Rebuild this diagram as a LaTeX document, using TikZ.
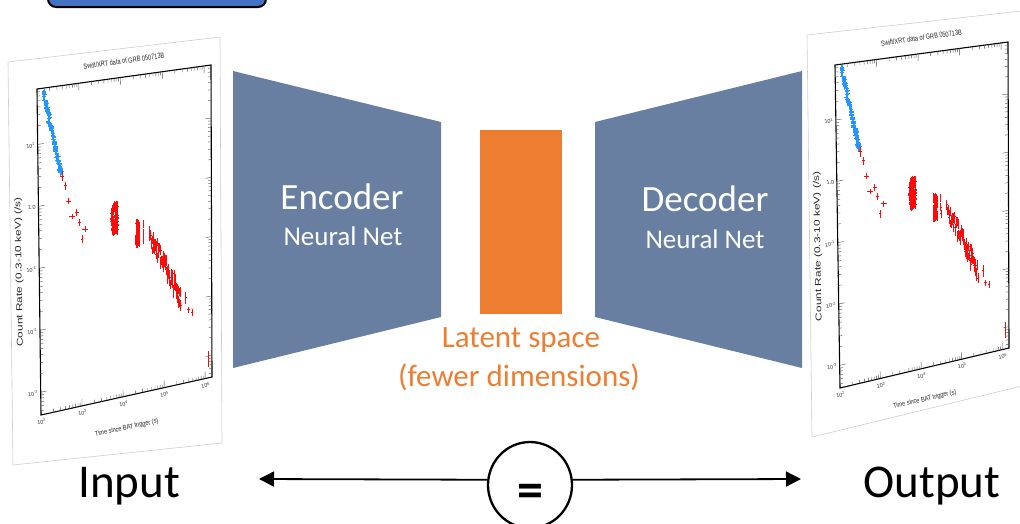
\documentclass[tikz,border=0pt]{standalone}
\usepackage{fontspec}
\setmainfont{Carlito}
\newfontfamily\plotfont{Liberation Sans}
\usetikzlibrary{arrows.meta,calc,shapes.geometric}
\definecolor{slate}{RGB}{104,127,161}
\definecolor{latent}{RGB}{237,125,49}
\definecolor{boxblue}{RGB}{68,114,196}
\definecolor{datablue}{RGB}{35,150,255}
\definecolor{datared}{RGB}{255,10,10}
\definecolor{framegray}{RGB}{205,205,205}

% quadrilateral (bilinear) mapping: A=top-left, B=top-right, C=bottom-left, D=bottom-right
\newcommand\setquad[8]{\def\qax{#1}\def\qay{#2}\def\qbx{#3}\def\qby{#4}\def\qcx{#5}\def\qcy{#6}\def\qdx{#7}\def\qdy{#8}}
\newcommand\qpt[3]{%
 \pgfmathsetmacro\qx{(1-(#2))*((1-(#1))*\qax+(#1)*\qbx)+(#2)*((1-(#1))*\qcx+(#1)*\qdx)}%
 \pgfmathsetmacro\qy{(1-(#2))*((1-(#1))*\qay+(#1)*\qby)+(#2)*((1-(#1))*\qcy+(#1)*\qdy)}%
 \coordinate (#3) at (\qx,\qy);}
\newcommand\ebar[5]{\qpt{#1}{#2}{ep}\draw[#5] ($(ep)+(-#3,0)$) -- ($(ep)+(#3,0)$) ($(ep)+(0,-#4)$) -- ($(ep)+(0,#4)$);}

\tikzset{
 bluept/.style={datablue, line width=1.2pt},
 redpt/.style={datared, line width=1pt},
 axisline/.style={black, line width=1.1pt},
 tickmark/.style={black!70, line width=0.4pt},
 ticklab/.style={font=\plotfont\fontsize{5.5}{6}\selectfont, inner sep=0.5pt, text=black!80},
 plottitle/.style={font=\plotfont\fontsize{7.5}{8}\selectfont, inner sep=0pt, xscale=0.75, text=black!85},
 ylab/.style={font=\plotfont\fontsize{8.5}{9}\selectfont, inner sep=0pt, xscale=1.4, text=black!85},
 xlab/.style={font=\plotfont\fontsize{7}{8}\selectfont, inner sep=0pt, xscale=0.8, text=black!85},
 bigtxt/.style={font=\fontsize{37}{40}\selectfont, text=white, inner sep=0pt},
 midtxt/.style={font=\fontsize{27}{30}\selectfont, text=white, inner sep=0pt},
 lattxt/.style={font=\fontsize{31}{34}\selectfont, text=latent, inner sep=0pt},
 iotxt/.style={font=\fontsize{47}{50}\selectfont, text=black, inner sep=0pt},
 arrowline/.style={black, line width=1.8pt, -{Triangle[length=15pt,width=15pt]}},
 eqcirc/.style={draw=black, line width=2.3pt, ellipse, minimum width=84pt, minimum height=86pt, inner sep=0pt, font=\fontsize{52}{52}\selectfont\bfseries},
}

\newcommand\grbplot[3]{% #1 seed, #2 title angle, #3 xlabel angle
 \pgfmathsetseed{#1}
 \qpt{0}{0}{qa}\qpt{1}{0}{qb}\qpt{1}{1}{qd}\qpt{0}{1}{qc}
 % blue (WT) points
 \foreach \i in {0,...,55}{%
   \pgfmathsetmacro\uu{0.036+\i*0.00175+0.007*rand}%
   \pgfmathsetmacro\vv{0.012+\i*0.0048+0.012*rand}%
   \ebar{\uu}{\vv}{2.2}{3.5}{bluept}}
 % early red points
 \foreach \uu/\vv/\hw/\hh in {0.14/0.28/2/5, 0.155/0.31/1.5/4, 0.175/0.36/2.5/3, 0.195/0.41/3/2.5, 0.22/0.40/2/3.5, 0.235/0.43/1.5/3.5, 0.25/0.485/1/4, 0.27/0.455/3/3}{%
   \ebar{\uu}{\vv}{\hw}{\hh}{redpt}}
 % first dense cluster
 \foreach \i in {1,...,55}{%
   \pgfmathsetmacro\uu{0.44+0.018*rand}%
   \pgfmathsetmacro\vv{0.44+0.04*rand}%
   \ebar{\uu}{\vv}{1.5}{5}{redpt}}
 % second cluster
 \foreach \i in {1,...,26}{%
   \pgfmathsetmacro\uu{0.572+0.012*rand}%
   \pgfmathsetmacro\vv{0.495+0.032*rand}%
   \ebar{\uu}{\vv}{0.8}{5}{redpt}}
 \foreach \vv in {0.47,0.5,0.52}{\ebar{0.605}{\vv}{0.6}{4}{redpt}}
 % decaying band
 \foreach \i in {0,...,60}{%
   \pgfmathsetmacro\uu{0.64+\i*0.003}%
   \pgfmathsetmacro\vv{0.51+\i*0.0036+0.028*rand}%
   \pgfmathsetmacro\hh{3.5+3*rnd}%
   \ebar{\uu}{\vv}{0.8}{\hh}{redpt}}
 \foreach \uu/\vv/\hw/\hh in {0.85/0.73/0.8/6, 0.865/0.77/1.5/3, 0.885/0.78/1/3.5, 0.98/0.94/0.6/8}{%
   \ebar{\uu}{\vv}{\hw}{\hh}{redpt}}
 % axes box
 \draw[axisline] (qa) -- (qb) -- (qd) -- (qc) -- cycle;
 % x ticks
 \foreach \k in {2,...,6}{\foreach \m in {1,...,9}{%
   \pgfmathsetmacro\uu{(\k-2+log10(\m))*0.24}%
   \pgfmathtruncatemacro\ok{\uu<=1 ? 1 : 0}%
   \ifnum\ok=1
   \pgfmathsetmacro\tl{\m==1 ? 0.022 : 0.011}%
   \qpt{\uu}{1}{ta}\qpt{\uu}{1-\tl}{tb}\draw[tickmark] (ta) -- (tb);
   \qpt{\uu}{0}{ta}\qpt{\uu}{\tl}{tb}\draw[tickmark] (ta) -- (tb);
   \fi}}
 % y ticks
 \foreach \k in {-4,...,1}{\foreach \m in {1,...,9}{%
   \pgfmathsetmacro\vv{0.36-(\k+log10(\m))*0.19}%
   \pgfmathtruncatemacro\ok{(\vv>=0)&&(\vv<=1) ? 1 : 0}%
   \ifnum\ok=1
   \pgfmathsetmacro\tl{\m==1 ? 0.035 : 0.018}%
   \qpt{0}{\vv}{ta}\qpt{\tl}{\vv}{tb}\draw[tickmark] (ta) -- (tb);
   \qpt{1}{\vv}{ta}\qpt{1-\tl}{\vv}{tb}\draw[tickmark] (ta) -- (tb);
   \fi}}
 % tick labels
 \foreach \vv/\tt in {0.17/{10\textsuperscript{1}}, 0.36/{1.0}, 0.55/{10\textsuperscript{-1}}, 0.74/{10\textsuperscript{-2}}, 0.93/{10\textsuperscript{-3}}}{%
   \qpt{-0.012}{\vv}{tl}\node[rotate=9, ticklab, anchor=east] at (tl) {\tt};}
 \foreach \uu/\tt in {0/{10\textsuperscript{2}}, 0.24/{10\textsuperscript{3}}, 0.48/{10\textsuperscript{4}}, 0.72/{10\textsuperscript{5}}, 0.96/{10\textsuperscript{6}}}{%
   \qpt{\uu}{1.012}{tl}\node[rotate=9, ticklab, anchor=north] at (tl) {\tt};}
 % titles
 \qpt{0.5}{-0.05}{tt}\node[rotate=#2, plottitle] at (tt) {Swift/XRT data of GRB 050713B};
 \qpt{-0.115}{0.55}{tt}\node[rotate=91, ylab] at (tt) {Count Rate (0.3-10 keV) (/s)};
 \qpt{0.5}{1.1}{tt}\node[rotate=#3, xlab] at (tt) {Time since BAT trigger (s)};
}

\begin{document}
\begin{tikzpicture}[x=1pt, y=-1pt]
\useasboundingbox (0,0) rectangle (1020,523);
\clip (0,0) rectangle (1020,523);

% top-left box (cut by the page edge)
\node[draw=black, line width=2pt, fill=boxblue, rounded corners=8pt, minimum width=218pt, minimum height=40pt, inner sep=0pt] (topbox) at (157,-13) {};

% input plot
\draw[framegray, line width=0.6pt] (8,62) -- (220,37) -- (222,443) -- (13,465) -- cycle;
\setquad{37}{89}{211}{65}{41}{415}{212}{377}
\grbplot{11}{8}{12}

% output plot
\draw[framegray, line width=0.6pt] (807,35) -- (1030,10) -- (1030,384) -- (812,437) -- cycle;
\setquad{835}{65}{1008}{42}{840}{388}{1009}{348}
\grbplot{11}{8}{13}

% encoder / latent / decoder
\fill[slate] (233,71) -- (441,122) -- (441,317) -- (233,368) -- cycle;
\fill[latent] (480,130) rectangle (562,314);
\fill[slate] (595,122) -- (802,71) -- (802,368) -- (595,317) -- cycle;

\node[bigtxt, anchor=base] (enc) at (342,209) {Encoder};
\node[midtxt, anchor=base] (encnn) at (343,245) {Neural Net};
\node[bigtxt, anchor=base] (dec) at (705,211) {Decoder};
\node[midtxt, anchor=base] (decnn) at (705,248) {Neural Net};
\node[lattxt, anchor=base] (lat1) at (521,347) {Latent space};
\node[lattxt, anchor=base] (lat2) at (519,386) {(fewer dimensions)};

% input / output comparison
\node[iotxt, anchor=base] (inp) at (129,497) {Input};
\node[iotxt, anchor=base] (outp) at (932,497) {Output};
\node[eqcirc] (eq) at (530,485) {\raisebox{-22pt}[0pt][0pt]{=}};
\coordinate (inarrow) at (259,479);
\coordinate (outarrow) at (801,479);
\draw[arrowline] (eq.173) -- (inarrow);
\draw[arrowline] (eq.7) -- (outarrow);
\end{tikzpicture}
\end{document}
